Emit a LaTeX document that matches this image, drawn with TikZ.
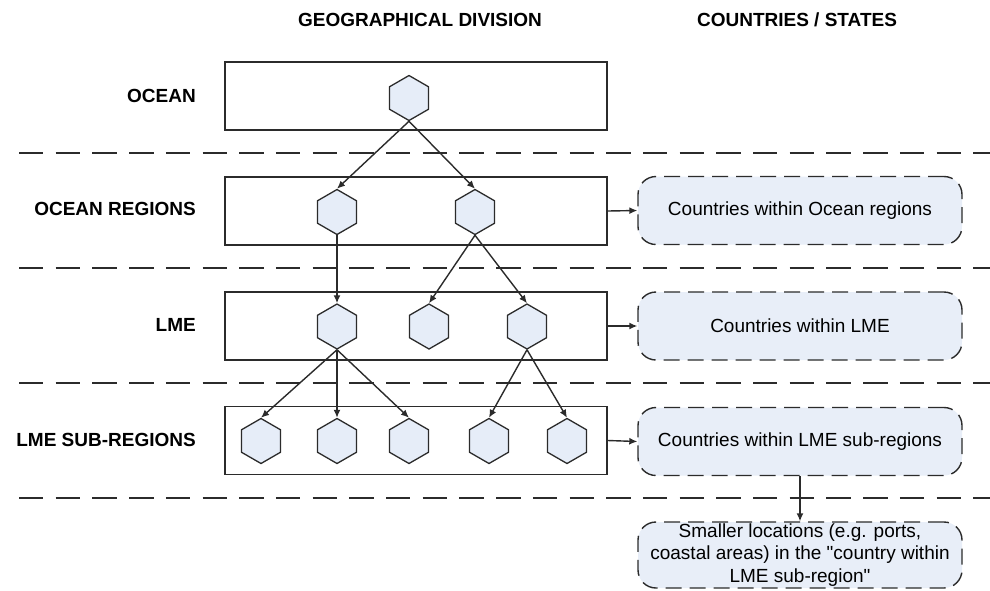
\documentclass[tikz,border=0pt]{standalone}
\usepackage{fontspec}
\setmainfont{Liberation Sans}[Ligatures=TeXOff]
\usetikzlibrary{shapes.geometric,arrows.meta}
\definecolor{linec}{HTML}{2B2B2B}
\definecolor{hexfill}{HTML}{E6EDF8}
\definecolor{cfill}{HTML}{E8EEF8}
\begin{document}
\begin{tikzpicture}[x=1pt,y=-1pt,
  every node/.style={font=\fontsize{19}{22.5}\selectfont},
  hexa/.style={regular polygon, regular polygon sides=6, shape border rotate=30,
    minimum size=45pt, inner sep=0pt, draw=linec, fill=hexfill, line width=1.3pt},
  rowbox/.style={draw=linec, line width=1.6pt, minimum width=382pt, minimum height=68pt, inner sep=0pt},
  cbox/.style={draw=linec, fill=cfill, line width=1.4pt, dash pattern=on 16pt off 8pt,
    rounded corners=18pt, minimum width=324pt, minimum height=68pt, inner sep=0pt, align=center},
  sepline/.style={draw=linec, line width=1.8pt, dash pattern=on 24.4pt off 12.3pt},
  arr/.style={draw=linec, line width=1.4pt, -{Latex[length=8pt,width=7pt]}},
  lbl/.style={font=\fontsize{19}{22.5}\selectfont\bfseries, anchor=east, inner sep=0pt},
  hdr/.style={font=\fontsize{19}{22.5}\selectfont\bfseries, inner sep=0pt}]
\useasboundingbox (0,0) rectangle (990,590);

% headers
\node[hdr] (hd1) at (420,20) {GEOGRAPHICAL DIVISION};
\node[hdr] (hd2) at (797,20) {COUNTRIES / STATES};

% separators
\coordinate (s1a) at (19,153); \coordinate (s1b) at (1010,153);
\coordinate (s2a) at (19,268); \coordinate (s2b) at (1010,268);
\coordinate (s3a) at (19,383); \coordinate (s3b) at (1010,383);
\coordinate (s4a) at (19,498); \coordinate (s4b) at (1010,498);
\draw[sepline] (s1a) -- (s1b);
\draw[sepline] (s2a) -- (s2b);
\draw[sepline] (s3a) -- (s3b);
\draw[sepline] (s4a) -- (s4b);

% row labels
\node[lbl] (l1) at (196,96) {OCEAN};
\node[lbl] (l2) at (196,209) {OCEAN REGIONS};
\node[lbl] (l3) at (196,325) {LME};
\node[lbl] (l4) at (196,440) {LME SUB-REGIONS};

% row boxes
\node[rowbox] (r1) at (416,96) {};
\node[rowbox] (r2) at (416,211) {};
\node[rowbox] (r3) at (416,326) {};
\node[rowbox] (r4) at (416,440.5) {};

% hexagons
\node[hexa] (o) at (409,98) {};
\node[hexa] (a1) at (337,212) {};
\node[hexa] (a2) at (475,212) {};
\node[hexa] (b1) at (337,326.5) {};
\node[hexa] (b2) at (429,326.5) {};
\node[hexa] (b3) at (527,326.5) {};
\node[hexa] (c1) at (261,441) {};
\node[hexa] (c2) at (337,441) {};
\node[hexa] (c3) at (409,441) {};
\node[hexa] (c4) at (489,441) {};
\node[hexa] (c5) at (567,441) {};

% tree arrows
\draw[arr] (o.south) -- (a1.north);
\draw[arr] (o.south) -- (a2.north);
\draw[arr] (a1.south) -- (b1.north);
\draw[arr] (a2.south) -- (b2.north);
\draw[arr] (a2.south) -- (b3.north);
\draw[arr] (b1.south) -- (c1.north);
\draw[arr] (b1.south) -- (c2.north);
\draw[arr] (b1.south) -- (c3.north);
\draw[arr] (b3.south) -- (c4.north);
\draw[arr] (b3.south) -- (c5.north);

% country boxes
\node[cbox] (k1) at (800,210.5) {Countries within Ocean regions};
\node[cbox] (k2) at (800,326) {Countries within LME};
\node[cbox] (k3) at (800,441.5) {Countries within LME sub-regions};
\node[cbox, minimum height=66pt] (k4) at (800,555) {Smaller locations (e.g. ports,\\coastal areas) in the "country within\\LME sub-region"};

\draw[arr] (r2.east) -- (k1.west);
\draw[arr] (r3.east) -- (k2.west);
\draw[arr] (r4.east) -- (k3.west);
\draw[arr] (k3.south) -- (k4.north);
\end{tikzpicture}
\end{document}
